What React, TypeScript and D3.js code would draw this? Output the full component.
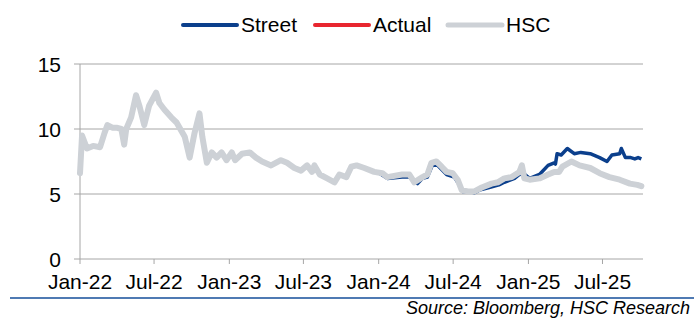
import React from "react";
import * as d3 from "d3";

const hscDates = ["2022-01-01","2022-01-06","2022-01-18","2022-02-02","2022-02-19","2022-03-02","2022-03-09","2022-03-21","2022-03-31","2022-04-12","2022-04-19","2022-04-24","2022-05-06","2022-05-18","2022-05-26","2022-06-07","2022-06-19","2022-07-06","2022-07-14","2022-07-26","2022-08-12","2022-08-25","2022-09-14","2022-09-26","2022-10-08","2022-10-20","2022-10-27","2022-11-07","2022-11-19","2022-12-01","2022-12-13","2022-12-25","2023-01-07","2023-01-15","2023-02-01","2023-02-20","2023-03-07","2023-03-22","2023-04-13","2023-05-07","2023-05-22","2023-06-09","2023-06-25","2023-07-10","2023-07-22","2023-07-28","2023-08-10","2023-08-28","2023-09-15","2023-09-27","2023-10-14","2023-10-26","2023-11-08","2023-11-27","2023-12-21","2024-01-10","2024-01-22","2024-02-27","2024-03-16","2024-03-28","2024-04-17","2024-04-29","2024-05-09","2024-05-21","2024-06-03","2024-06-15","2024-06-30","2024-07-12","2024-07-22","2024-08-06","2024-08-22","2024-09-09","2024-10-03","2024-10-18","2024-11-03","2024-11-21","2024-12-10","2024-12-16","2024-12-22","2025-01-04","2025-01-28","2025-02-18","2025-03-05","2025-03-17","2025-03-25","2025-04-16","2025-05-06","2025-06-01","2025-06-24","2025-07-18","2025-08-12","2025-09-06","2025-09-24","2025-10-04"];
const hscValues = [6.6,9.5,8.5,8.7,8.6,9.7,10.3,10.1,10.1,10.0,8.8,10.0,10.9,12.6,11.8,10.3,11.8,12.8,12.0,11.5,10.9,10.5,9.4,7.8,9.7,11.2,9.4,7.4,8.2,7.8,8.2,7.6,8.2,7.6,8.1,8.2,7.8,7.5,7.2,7.6,7.4,7.0,6.8,7.2,6.7,7.2,6.5,6.2,5.9,6.5,6.3,7.1,7.2,7.0,6.7,6.6,6.3,6.5,6.5,5.9,6.3,6.5,7.4,7.5,7.1,6.7,6.6,6.1,5.3,5.2,5.2,5.5,5.8,5.9,6.2,6.3,6.7,7.2,6.2,6.1,6.2,6.5,6.7,6.7,7.1,7.5,7.2,7.0,6.6,6.3,6.1,5.8,5.7,5.6];

const streetDates = ["2024-01-03","2024-01-22","2024-02-27","2024-03-16","2024-04-05","2024-04-17","2024-04-29","2024-05-11","2024-05-21","2024-06-15","2024-07-04","2024-07-16","2024-07-24","2024-08-09","2024-08-22","2024-09-03","2024-09-27","2024-10-21","2024-11-03","2024-11-28","2024-12-10","2024-12-19","2025-01-04","2025-01-28","2025-02-18","2025-03-05","2025-03-08","2025-03-12","2025-03-22","2025-04-06","2025-04-23","2025-05-09","2025-06-01","2025-06-24","2025-07-12","2025-07-24","2025-08-12","2025-08-16","2025-08-26","2025-09-08","2025-09-18","2025-09-26","2025-10-04"];
const streetValues = [6.6,6.2,6.3,6.3,5.8,6.2,6.3,7.2,7.3,6.5,6.3,5.7,5.2,5.2,5.1,5.3,5.5,5.7,5.9,6.2,6.5,6.6,6.2,6.5,7.2,7.4,7.3,8.1,8.0,8.5,8.1,8.2,8.1,7.8,7.5,8.0,8.1,8.5,7.8,7.8,7.7,7.8,7.7];

const actualDates: string[] = [];
const actualValues: number[] = [];

const yTicks = [0, 5, 10, 15];
const xTickDates = ["2022-01-01","2022-07-01","2023-01-01","2023-07-01","2024-01-01","2024-07-01","2025-01-01","2025-07-01"];
const xTickLabels = ["Jan-22","Jul-22","Jan-23","Jul-23","Jan-24","Jul-24","Jan-25","Jul-25"];

const legendNames = ["Street", "Actual", "HSC"];
const colors: Record<string, string> = { Street: "#0b3f8c", Actual: "#e8262f", HSC: "#cdd1d6" };

const FONT = "'Liberation Sans', Arial, sans-serif";

export default function App() {
  const parse = d3.timeParse("%Y-%m-%d");
  const left = 80, right = 643, top = 64, bottom = 259;
  const x = d3.scaleTime()
    .domain([parse("2022-01-01")!, parse("2025-10-08")!])
    .range([left, right]);
  const y = d3.scaleLinear().domain([0, 15]).range([bottom, top]);

  const mk = (ds: string[], vs: number[]) => ds.map((d, i) => ({ d: parse(d)!, v: vs[i] }));
  const line = d3.line<{ d: Date; v: number }>().x(p => x(p.d)).y(p => y(p.v)).curve(d3.curveLinear);

  const hsc = mk(hscDates, hscValues);
  const street = mk(streetDates, streetValues);
  const actual = mk(actualDates, actualValues);

  const legendX = [183, 315, 448];

  return (
    <svg width={694} height={320} style={{ position: "absolute", left: 0, top: 0, background: "#fff" }}>
      <rect x={0} y={0} width={694} height={320} fill="#fff" />
      {legendNames.map((n, i) => (
        <g key={n}>
          <line x1={legendX[i]} x2={legendX[i] + 54} y1={25} y2={25} stroke={colors[n]} strokeWidth={n === "HSC" ? 5 : 4} strokeLinecap="round" />
          <text x={legendX[i] + 58} y={32} fontFamily={FONT} fontSize={21} fill="#000">{n}</text>
        </g>
      ))}
      {yTicks.map(t => (
        <g key={t}>
          <line x1={left - 6} x2={right} y1={y(t)} y2={y(t)} stroke="#a6a6a6" strokeWidth={1} />
          <text x={61} y={y(t) + 8} textAnchor="end" fontFamily={FONT} fontSize={21} fill="#000">{t}</text>
        </g>
      ))}
      <line x1={left} x2={left} y1={top} y2={bottom} stroke="#a6a6a6" strokeWidth={1} />
      {xTickDates.map((d, i) => {
        const px = x(parse(d)!);
        return (
          <g key={d}>
            <line x1={px} x2={px} y1={bottom} y2={bottom + 5} stroke="#a6a6a6" strokeWidth={1} />
            <text x={px} y={289} textAnchor="middle" fontFamily={FONT} fontSize={21} fill="#000">{xTickLabels[i]}</text>
          </g>
        );
      })}
      <path d={line(street) || ""} fill="none" stroke={colors.Street} strokeWidth={3.5} strokeLinejoin="round" />
      {actual.length > 0 && <path d={line(actual) || ""} fill="none" stroke={colors.Actual} strokeWidth={3.5} />}
      <path d={line(hsc) || ""} fill="none" stroke={colors.HSC} strokeWidth={6} strokeLinejoin="round" strokeLinecap="round" />
      <line x1={10} x2={694} y1={298} y2={298} stroke="#4f7ab3" strokeWidth={2} />
      <text x={690} y={314} textAnchor="end" fontFamily={FONT} fontSize={18} fontStyle="italic" fill="#000">Source: Bloomberg, HSC Research</text>
    </svg>
  );
}
